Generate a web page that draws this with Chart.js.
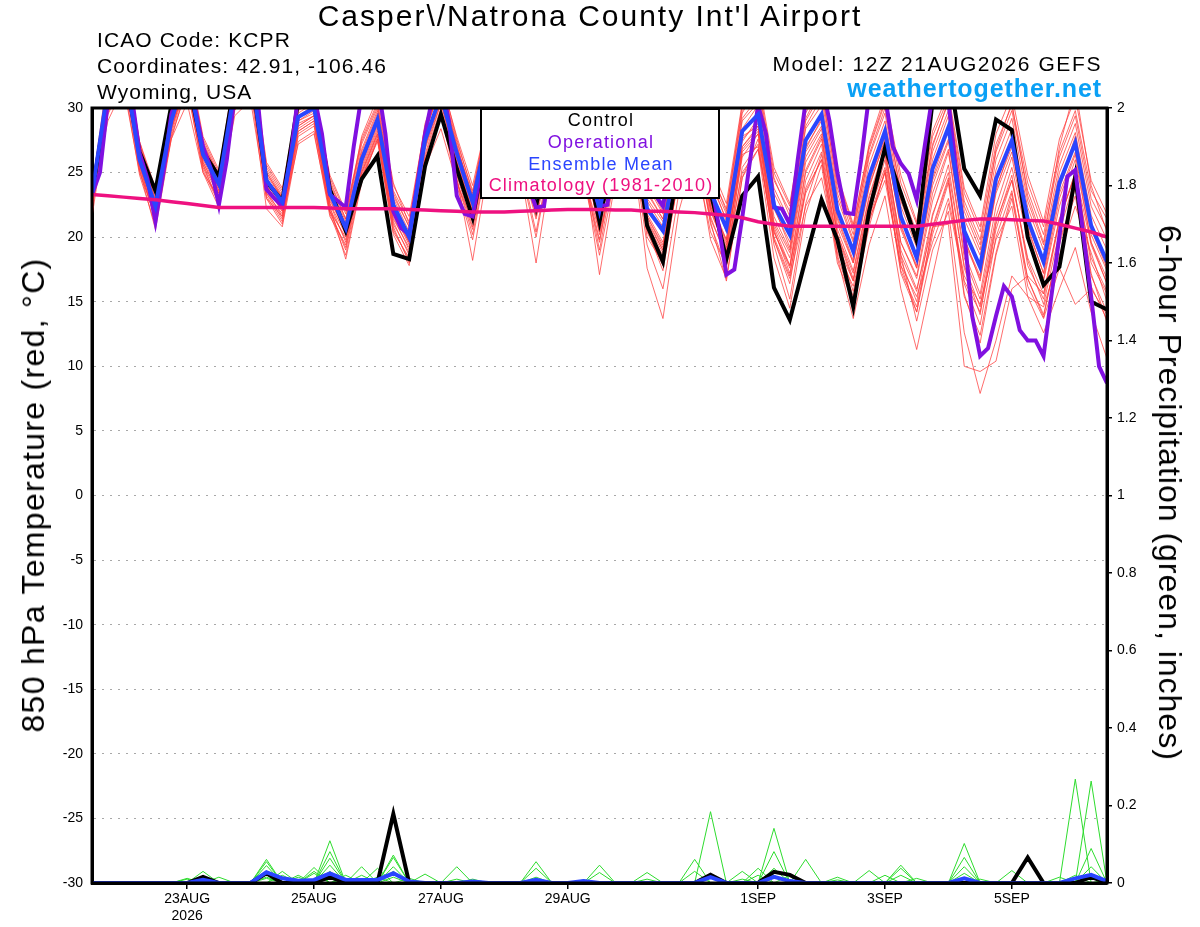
<!DOCTYPE html>
<html>
<head>
<meta charset="utf-8">
<title>Casper/Natrona County Int'l Airport - GEFS 850 hPa temperature</title>
<script src="https://cdn.jsdelivr.net/npm/chart.js@4.4.1/dist/chart.umd.min.js"></script>
<style>
  html, body { margin: 0; padding: 0; background: #fff; }
  #wrap { position: relative; width: 1200px; height: 927px; overflow: hidden;
          font-family: "Liberation Sans", Arial, Helvetica, sans-serif; color: #000; }
  #chart { position: absolute; left: 0; top: 0; }
  .txt { position: absolute; white-space: nowrap; }
  #title { left: 0; top: -2px; width: 1180px; text-align: center; font-size: 30px; line-height: 36px; letter-spacing: 2px; }
  #info { left: 97px; top: 27px; font-size: 21px; line-height: 26px; letter-spacing: 1.1px; }
  #model { right: 98px; top: 51px; font-size: 21px; line-height: 26px; letter-spacing: 1.6px; }
  #site { right: 98px; top: 74px; font-size: 25px; line-height: 28px; font-weight: bold; color: #0aa0f5; letter-spacing: 0.9px; }
  .axis-title { font-size: 32px; line-height: 36px; }
  #yTitle { left: 33px; top: 495px; letter-spacing: 1.3px; transform: translate(-50%, -50%) rotate(-90deg); }
  #y1Title { left: 1170px; top: 493px; letter-spacing: 1px; transform: translate(-50%, -50%) rotate(90deg); }
</style>
</head>
<body>
<div id="wrap">
  <canvas id="chart" width="1200" height="927"></canvas>
  <div class="txt" id="title">Casper\/Natrona County Int'l Airport</div>
  <div class="txt" id="info">ICAO Code: KCPR<br>Coordinates: 42.91, -106.46<br>Wyoming, USA</div>
  <div class="txt" id="model">Model: 12Z 21AUG2026 GEFS</div>
  <div class="txt" id="site">weathertogether.net</div>
  <div class="txt axis-title" id="yTitle">850 hPa Temperature (red, °C)</div>
  <div class="txt axis-title" id="y1Title">6-hour Precipitation (green, inches)</div>
</div>
<script>
(function () {
  "use strict";

  /* ---------- Data (6-hourly from 12Z 21AUG2026, operational 3-hourly) ---------- */
  var ensStepHours = 6;
  var opStepHours = 3;

  var dateTickHours = [36, 84, 132, 180, 252, 300, 348];
  var dateTickLabels = ["23AUG", "25AUG", "27AUG", "29AUG", "1SEP", "3SEP", "5SEP"];
  var dateTickYears = ["2026", "", "", "", "", "", ""];

  var tempMin = -30, tempMax = 30, tempStep = 5;
  var precipMin = 0, precipMax = 2, precipStep = 0.2;

  var legendNames = ["Control", "Operational", "Ensemble Mean", "Climatology (1981-2010)"];

  var controlTemp = [
    23.3,31.0,33.0,26.6,23.6,30.2,32.5,26.6,24.7,32.0,33.0,24.3,22.8,
    30.5,31.0,23.7,20.5,24.5,26.3,18.7,18.3,25.5,29.5,25.3,21.5,28.0,
    31.0,28.0,22.4,28.5,31.0,27.0,21.2,27.5,30.0,20.9,18.1,26.0,28.5,
    23.5,18.3,23.2,24.7,16.1,13.6,18.3,22.9,19.8,14.6,22.0,26.9,23.4,
    19.7,30.5,33.0,25.3,23.2,29.1,28.3,20.0,16.3,17.7,24.7,15.0,14.4
  ];

  var meanTemp = [
    23.3,31.5,33.5,26.0,22.4,29.0,33.0,26.4,24.1,31.5,33.0,24.4,22.7,
    29.3,30.0,23.4,20.7,26.0,29.1,22.5,20.0,27.5,31.0,26.5,22.7,28.5,
    31.0,28.0,23.5,29.0,31.0,27.5,22.1,28.0,30.5,22.2,20.5,27.0,30.0,
    23.5,20.7,28.2,29.5,22.5,20.2,27.5,29.5,22.1,18.9,24.7,28.2,21.6,
    18.4,25.3,28.5,20.5,17.7,24.5,27.5,21.4,18.1,24.2,27.3,20.9,18.1
  ];

  var climoTemp = [
    23.3,23.2,23.1,23.0,22.9,22.75,22.6,22.45,22.3,22.3,22.3,22.3,22.3,
    22.3,22.3,22.25,22.2,22.2,22.2,22.2,22.15,22.1,22.05,22.0,21.95,21.95,
    21.95,22.0,22.05,22.1,22.15,22.15,22.15,22.1,22.1,22.0,22.0,21.95,21.9,
    21.8,21.7,21.5,21.2,21.0,20.85,20.85,20.85,20.85,20.85,20.85,20.85,20.85,
    20.85,21.0,21.15,21.3,21.4,21.4,21.35,21.3,21.25,21.0,20.7,20.4,20.0
  ];

  var operationalTemp = [
    23.3,25.0,30.5,32.0,33.0,31.0,26.5,24.5,21.2,25.0,29.5,31.5,33.0,30.0,27.0,25.3,
    22.5,26.0,31.0,33.0,33.0,30.0,23.7,23.0,22.4,26.0,31.0,32.0,31.0,28.0,23.3,22.8,
    22.3,27.0,31.0,32.5,32.0,28.0,22.0,20.7,20.2,24.0,28.0,31.0,32.0,29.0,23.2,21.8,
    21.6,25.0,29.0,31.0,32.0,30.0,27.0,24.0,22.3,22.4,27.0,30.0,32.0,31.0,27.0,24.0,
    22.4,22.5,27.0,30.0,31.0,29.0,24.5,23.3,22.4,26.0,30.0,32.0,32.0,29.0,24.5,21.0,
    17.1,17.5,21.5,26.0,30.2,28.0,22.3,22.2,21.0,26.0,30.5,32.0,32.0,29.0,25.0,21.9,
    21.8,26.0,31.0,32.0,31.0,27.0,25.7,24.9,22.9,27.0,31.0,32.0,30.5,25.0,20.3,13.9,
    10.8,11.4,13.9,16.2,15.4,12.8,12.0,12.0,10.8,15.5,20.1,24.7,25.2,20.3,15.4,10.0,
    8.7
  ];

  var memberTemps = [
    [23.0,31.8,34.0,26.8,22.9,29.6,33.4,27.0,24.6,32.0,33.5,25.0,23.1, 29.8,30.6,24.0,21.2,26.8,29.8,23.4,20.8,28.2,31.6,27.0,23.2,29.0,
     31.5,28.4,24.0,29.6,31.8,28.2,22.8,28.6,31.2,23.0,21.2,27.8,30.6, 24.2,21.4,29.0,30.4,23.4,21.0,28.4,30.2,23.0,19.6,25.6,29.0,22.4,
     19.2,26.0,29.4,21.4,18.6,25.2,28.4,22.3,19.0,25.0,28.1,21.7,19.0],
    [22.1,29.5,32.0,24.8,20.9,27.8,31.5,25.2,22.6,30.0,31.8,23.0,21.0, 27.8,28.6,22.0,19.0,24.6,27.8,20.6,18.2,26.0,29.4,24.8,20.8,26.8,
     29.6,26.0,21.4,27.0,29.2,25.0,19.8,25.8,28.6,20.4,17.8,24.6,28.0, 21.0,17.6,25.4,27.2,19.8,16.4,23.8,26.6,19.6,15.8,21.6,25.0,17.8,
     14.2,20.8,24.6,15.6,11.8,18.6,23.0,16.8,14.0,19.4,23.8,17.0,14.2],
    [23.5,32.4,34.6,27.0,23.4,30.2,34.0,27.6,25.0,32.6,34.2,25.6,23.6, 30.4,31.2,24.8,22.0,27.6,30.4,24.0,21.6,28.6,32.2,27.8,24.0,29.6,
     32.2,29.0,24.6,30.2,32.4,29.0,23.6,29.4,32.0,24.6,22.4,28.8,31.8, 25.6,22.6,30.4,32.0,25.0,22.4,29.6,31.8,24.8,21.0,27.0,30.6,24.2,
     21.0,27.8,30.8,23.4,20.4,27.2,30.2,24.2,20.8,26.6,29.8,23.6,21.4],
    [22.6,30.0,33.0,25.4,21.6,28.2,32.4,25.8,23.4,30.6,32.4,23.8,22.0, 28.4,29.2,22.6,19.6,25.0,28.2,21.6,19.0,26.4,30.4,25.6,21.8,27.6,
     30.2,27.0,22.4,28.0,30.0,26.4,20.6,27.0,29.6,21.0,18.8,26.0,29.0, 22.0,19.0,27.0,28.4,21.0,18.4,25.8,28.0,20.2,16.8,22.6,26.4,18.6,
     13.5,19.0,22.0,12.6,7.9,12.0,17.0,15.4,14.6,18.6,22.4,18.8,15.0],
    [23.2,31.0,33.2,25.6,22.0,28.8,32.8,26.2,23.8,31.2,32.8,24.0,22.3, 29.0,29.6,23.0,20.2,25.6,28.8,22.0,19.6,27.0,30.8,26.0,22.2,28.2,
     30.6,27.4,23.0,28.6,30.6,27.0,21.6,27.6,30.0,21.6,19.4,26.4,29.4, 22.6,19.6,27.6,28.8,21.6,19.0,26.6,28.6,20.6,17.4,23.2,27.0,19.0,
     16.0,20.8,21.0,10.0,9.6,10.4,16.0,17.0,15.6,21.4,25.0,19.4,16.4],
    [23.4,31.6,33.6,26.2,22.6,29.2,33.2,26.6,24.2,31.4,33.0,24.6,22.8, 29.4,30.2,23.6,20.8,26.2,29.2,22.6,20.2,27.6,31.2,26.6,22.6,28.6,
     31.0,28.0,23.2,28.8,30.8,26.8,20.2,25.6,27.8,17.6,13.7,22.0,26.4, 20.4,17.8,26.6,28.0,20.4,17.6,25.0,27.6,20.0,16.6,22.6,26.6,19.6,
     16.8,22.8,26.6,18.4,15.2,21.6,25.4,19.8,16.6,22.4,26.0,19.6,16.8],
    [22.8,30.8,33.2,25.8,21.8,28.6,32.6,26.0,23.6,31.0,32.6,23.6,21.6, 28.6,29.4,22.4,18.3,24.2,27.6,20.2,17.8,25.6,29.8,24.4,20.6,27.2,
     29.8,26.6,21.6,27.6,29.6,25.6,17.1,24.4,28.4,20.0,18.0,25.4,28.8, 22.4,19.8,27.4,29.2,22.2,19.6,27.0,29.0,21.6,18.2,24.0,27.4,20.8,
     17.8,24.4,27.6,19.6,16.8,23.4,26.6,20.6,17.2,23.4,26.6,20.2,17.4],
    [23.6,32.0,34.4,27.2,23.6,30.0,33.8,27.4,24.8,32.4,33.8,25.4,23.4, 30.2,31.0,24.6,21.8,27.4,30.2,23.6,21.2,28.4,32.0,27.4,23.6,29.4,
     32.0,28.8,24.4,30.0,32.2,28.6,23.4,29.2,31.6,24.2,22.0,28.4,31.4, 25.0,22.2,29.8,31.4,24.4,22.0,29.0,31.2,24.2,20.6,26.4,30.0,23.6,
     20.4,27.2,30.4,22.8,19.8,26.6,29.8,23.6,20.2,26.2,29.4,23.0,20.6],
    [21.6,29.6,32.4,25.2,20.6,27.6,31.8,25.0,22.3,29.8,31.6,22.2,20.8, 27.4,28.2,21.6,19.4,25.2,28.4,21.2,18.6,25.8,29.6,24.0,19.8,26.4,
     29.0,25.4,18.0,25.8,29.2,24.6,19.6,26.4,29.4,21.4,19.0,26.0,29.2, 22.2,19.2,27.0,28.6,21.2,18.8,26.2,28.4,21.0,18.0,23.8,27.6,21.0,
     17.6,24.0,27.4,19.8,17.0,23.8,27.0,21.0,17.8,23.8,27.2,20.6,17.6],
    [23.0,31.2,33.6,26.4,22.2,28.8,32.8,26.2,23.8,31.2,32.8,24.2,22.4, 29.0,29.8,23.2,20.4,25.8,28.8,22.2,19.8,27.2,30.8,26.2,22.4,28.2,
     30.6,27.6,23.0,28.6,30.4,26.8,21.8,27.4,29.8,21.8,19.6,26.6,29.6, 22.8,19.8,27.8,28.6,20.6,17.2,23.4,26.0,18.4,13.7,19.4,23.2,16.0,
     11.3,17.0,22.6,16.6,14.2,20.6,24.4,18.2,14.8,20.4,24.6,17.2,13.4],
    [23.1,30.6,33.0,25.8,22.2,28.6,32.2,25.8,23.4,30.8,32.2,23.8,22.2, 28.8,29.4,22.8,20.6,25.4,28.6,21.8,19.4,26.8,30.4,25.8,22.0,27.8,
     30.4,27.2,22.8,28.4,30.4,26.6,21.4,27.2,29.8,21.6,19.2,26.0,29.0, 22.4,19.4,26.4,27.0,19.8,16.8,22.4,24.6,18.8,16.2,21.4,24.4,17.8,
     15.4,19.6,23.0,17.0,14.8,19.8,22.4,15.4,12.6,16.0,19.2,14.2,10.6],
    [23.3,32.2,34.8,27.4,23.2,30.4,34.2,27.8,25.2,32.8,34.4,25.8,23.8, 30.6,31.4,24.4,21.4,27.8,30.8,24.2,21.0,28.8,32.4,27.6,23.4,29.8,
     32.4,29.2,24.2,30.4,32.6,28.8,23.0,29.6,32.2,24.0,21.8,29.0,32.0, 25.2,22.0,30.2,32.4,25.4,22.6,30.0,32.4,24.6,20.8,27.2,31.0,24.8,
     21.2,28.2,31.2,23.8,20.8,28.0,31.0,24.8,21.2,27.6,30.8,24.4,21.8],
    [22.9,30.2,32.6,25.6,21.8,28.4,32.0,25.6,23.2,30.6,32.0,23.4,21.8, 28.2,29.0,22.2,19.8,25.0,28.0,21.0,18.8,26.2,30.0,25.2,21.4,27.4,
     30.0,26.8,22.2,27.8,29.8,25.8,20.8,26.8,29.2,20.8,18.2,25.2,28.6, 21.6,18.4,26.2,28.0,20.0,17.0,24.4,27.2,19.2,15.4,21.8,26.0,18.2,
     15.0,21.6,25.6,17.6,14.0,21.0,24.8,17.8,15.2,21.2,25.0,18.0,15.6],
    [23.4,31.4,33.8,26.6,22.8,29.4,33.4,27.0,24.4,31.8,33.2,24.8,23.0, 29.6,30.4,23.8,21.0,26.6,29.6,23.0,20.4,28.0,31.8,27.2,23.0,29.2,
     31.8,28.6,23.8,29.8,32.0,28.2,22.6,29.0,31.4,23.6,21.4,28.2,31.2, 24.6,21.8,29.6,31.8,24.6,21.6,29.2,31.6,23.8,20.2,26.8,30.4,23.2,
     20.0,27.0,30.6,22.4,19.4,26.8,30.4,23.2,19.6,27.0,31.6,24.0,20.4],
    [22.4,30.4,33.0,25.2,21.4,28.4,32.2,25.4,22.8,30.4,32.2,23.2,21.2, 28.0,28.8,21.8,18.6,24.4,27.6,20.4,18.4,25.8,29.8,24.6,18.2,25.6,
     29.4,25.8,20.4,26.8,29.6,25.2,19.0,25.8,29.0,20.6,17.4,24.8,28.4, 21.2,16.6,24.6,27.6,19.4,15.2,22.6,26.4,18.6,14.8,20.8,25.2,17.2,
     14.2,20.2,24.2,15.4,12.4,18.8,23.4,16.2,13.7,17.6,14.8,16.0,14.0],
    [23.0,29.0,31.6,25.0,21.6,27.6,30.4,25.0,23.0,29.4,30.6,23.0,21.6, 27.2,28.0,22.0,20.0,24.6,27.4,21.4,19.2,25.4,28.4,24.2,21.2,26.4,
     28.6,25.6,22.0,26.8,28.4,24.8,20.4,25.6,27.8,20.6,18.6,24.4,27.2, 21.4,18.6,25.0,26.8,20.4,17.8,23.6,26.0,19.4,16.6,22.0,25.4,18.6,
     15.8,21.8,25.0,17.8,14.6,21.2,24.4,18.4,15.6,21.4,24.8,18.4,15.8],
    [23.6,31.8,34.2,26.6,23.0,30.0,33.6,27.2,24.6,32.2,33.6,25.2,23.2, 30.0,30.8,24.2,21.4,27.2,30.0,23.2,20.8,28.2,31.8,27.0,23.2,29.4,
     31.8,28.6,24.0,29.8,31.8,28.0,22.8,28.8,31.0,23.4,21.4,28.0,30.8, 24.6,21.2,29.2,30.8,23.8,21.2,28.6,30.8,23.4,19.8,26.2,29.6,22.8,
     19.6,26.6,29.8,22.0,19.0,26.0,29.2,22.8,19.4,25.6,28.8,22.4,19.8],
    [22.7,30.8,33.2,26.0,22.0,28.8,32.6,26.4,23.6,31.0,32.6,24.0,22.0, 28.6,29.4,22.6,20.2,25.8,28.8,21.8,19.6,27.0,30.6,25.8,22.0,28.0,
     30.6,27.2,22.6,28.4,30.6,26.4,21.2,27.2,29.8,21.2,19.0,26.2,29.2, 22.2,18.8,26.8,28.2,20.8,17.8,25.2,27.8,20.2,17.2,23.0,26.8,19.6,
     17.0,23.4,26.8,18.8,15.6,22.4,26.2,20.0,16.8,23.0,26.4,19.6,16.4],
    [23.8,32.6,34.8,27.4,23.8,30.4,34.0,27.2,24.8,32.2,33.6,25.0,23.0, 30.0,30.8,23.8,20.6,26.4,29.4,22.4,19.6,27.4,31.4,26.4,22.6,28.8,
     31.4,28.2,23.4,29.4,31.6,27.6,22.2,28.4,31.2,22.8,20.8,27.8,30.8, 23.8,20.4,28.4,30.2,22.4,19.2,26.8,29.2,21.4,18.0,24.2,27.8,20.6,
     17.6,24.6,28.2,20.0,16.6,23.6,27.4,20.8,17.2,24.0,27.8,20.8,17.8],
    [22.2,30.2,32.8,25.6,21.2,28.0,32.0,25.6,22.6,30.2,31.8,23.4,21.4, 28.2,29.0,22.0,19.2,24.8,28.0,20.8,18.0,25.6,29.6,24.4,20.2,26.6,
     29.2,25.4,20.0,26.6,29.0,24.6,18.6,24.8,27.8,19.4,16.0,23.4,27.0, 19.8,16.8,24.6,26.8,18.4,14.5,21.8,25.6,18.0,15.0,21.2,25.0,17.4,
     14.6,20.6,24.4,16.4,13.2,20.0,23.6,16.8,13.8,19.8,23.2,16.2,13.6]
  ];

  var controlPrecip = [
    0,0,0,0,0,0,0,.016,0,0,0,.025,0,
    0,0,.016,0,0,0,.178,0,0,0,0,0,0,
    0,0,0,0,0,0,0,0,0,0,0,0,0,
    .021,0,0,0,.029,.021,0,0,0,0,0,0,0,
    0,0,0,0,0,0,0,.066,0,0,0,.016,0
  ];

  var meanPrecip = [
    0,0,0,0,0,0,0,.008,0,0,0,.028,.012,
    .006,.008,.025,.008,.008,.008,.025,.004,0,0,0,.004,0,
    0,0,.008,0,0,.005,0,0,0,0,0,0,0,
    .015,0,0,0,.016,.005,0,0,0,0,0,0,0,
    0,0,0,.012,0,0,0,0,0,0,.012,.021,.005
  ];

  var memberPrecips = [
    [0,0,0,0,0,0,0,0,0,0,0,.061,0, 0,0,.109,0,0,0,.072,0,0,0,0,0,0, 0,0,0,0,0,0,0,0,0,0,0,0,0, .184,0,0,0,.141,0,0,0,0,0,0,0,0, 0,0,0,0,0,0,0,0,0,0,.268,0,0],
    [0,0,0,0,0,0,0,0,0,0,0,.055,0, 0,0,.081,0,0,0,.066,0,0,0,0,0,0, 0,0,.055,0,0,0,0,0,0,0,0,0,0, 0,0,0,0,.081,0,0,0,0,0,0,0,0, 0,0,0,0,0,0,0,0,0,0,0,.263,0],
    [0,0,0,0,0,0,0,.03,0,0,0,.045,0, 0,0,.064,0,.042,0,0,0,0,0,0,0,0, 0,0,0,0,0,0,0,0,0,0,0,0,.061, 0,0,0,0,0,0,0,0,0,0,0,0,0, 0,0,0,.102,0,0,0,0,0,0,0,0,0],
    [0,0,0,0,0,0,0,0,0,0,0,.03,0, 0,.04,0,0,0,0,.042,0,0,0,.042,0,0, 0,0,0,0,0,0,0,0,0,0,0,0,0, 0,0,0,0,0,0,.061,0,0,0,0,0,0, 0,0,0,0,0,0,0,0,0,0,0,.089,0],
    [0,0,0,0,0,0,.012,0,0,0,0,0,.03, 0,0,.046,0,0,.038,0,0,0,0,0,0,0, 0,0,0,0,0,0,.046,0,0,0,0,0,0, 0,0,0,0,0,0,0,0,0,0,0,0,.046, 0,0,0,.066,0,0,0,0,0,0,0,0,0],
    [0,0,0,0,0,0,0,0,.015,0,0,0,0, .02,0,.03,0,0,0,0,0,.023,0,0,0,0, 0,0,.038,0,0,0,0,0,0,.027,0,0,0, 0,0,0,.038,0,0,0,0,0,0,0,0,0, 0,0,0,.042,0,0,0,0,0,0,0,0,0],
    [0,0,0,0,0,0,0,0,0,0,0,.015,0, 0,.03,0,.02,0,0,.03,0,0,0,0,0,0, 0,0,0,0,0,0,.027,0,0,0,0,0,0, 0,0,0,0,.038,0,0,0,0,0,.032,0,0, 0,0,0,0,0,0,0,0,0,0,0,.042,0],
    [0,0,0,0,0,0,0,0,0,0,0,0,.02, 0,0,0,0,.02,0,.015,0,0,0,0,0,0, 0,0,0,0,0,0,0,0,0,0,0,0,0, 0,0,.03,0,0,0,0,0,0,0,0,0,.038, 0,0,0,0,0,0,.032,0,0,0,0,0,0],
    [0,0,0,0,0,0,0,.01,0,0,0,0,0, 0,.025,0,.012,0,.015,0,0,0,0,0,0,0, 0,0,.015,0,0,0,0,0,0,0,0,0,0, 0,0,0,.02,0,0,0,0,0,0,0,0,.02, 0,0,0,.025,0,0,0,0,0,0,.02,0,0],
    [0,0,0,0,0,0,.01,0,0,0,0,0,0, .015,0,0,0,0,0,0,.012,0,0,0,.01,0, 0,0,0,0,0,0,0,0,0,.01,0,0,0, .02,0,0,0,.02,0,0,0,.015,0,0,0,0, .012,0,0,0,0,0,0,0,0,0,0,.02,0],
    [0,0,0,0,0,0,0,0,0,0,0,0,0, 0,0,0,0,0,0,0,0,0,0,.01,0,0, 0,0,0,0,0,0,0,0,0,0,0,0,.03, 0,0,.01,0,0,.02,0,0,0,0,0,.02,0, 0,0,0,0,.01,0,0,0,0,.015,0,0,.01],
    [0,0,0,0,0,0,0,0,0,0,0,.012,0, 0,0,.015,0,0,0,0,0,0,0,0,0,0, 0,0,0,0,0,.008,0,0,0,0,0,0,0, 0,0,0,0,0,0,0,0,.008,0,0,0,0, 0,0,0,0,0,0,0,0,0,0,0,0,0]
  ];

  /* ---------- Colours ---------- */
  var black = "#000000";
  var purple = "#8010e0";
  var blue = "#2a45ff";
  var pink = "#ee1180";
  var memberRed = "rgba(255, 60, 60, 0.75)";
  var memberGreen = "#2edc2e";
  var legendColors = [black, purple, blue, pink];

  var fontFamily = "'Liberation Sans', Arial, Helvetica, sans-serif";

  function toPoints(vals, step) {
    return vals.map(function (v, i) { return { x: i * step, y: v }; });
  }

  function lineSet(label, vals, step, color, width, axis) {
    return {
      label: label,
      data: toPoints(vals, step),
      borderColor: color,
      backgroundColor: color,
      borderWidth: width,
      pointRadius: 0,
      tension: 0,
      fill: false,
      clip: 0,
      yAxisID: axis
    };
  }

  // first in list is drawn on top
  var datasets = [
    lineSet("Climatology (1981-2010)", climoTemp, ensStepHours, pink, 3.5, "y"),
    lineSet("Ensemble Mean", meanTemp, ensStepHours, blue, 4, "y"),
    lineSet("Operational", operationalTemp, opStepHours, purple, 4, "y"),
    lineSet("Control", controlTemp, ensStepHours, black, 4, "y"),
    lineSet("Ensemble Mean precip", meanPrecip, ensStepHours, blue, 4, "y1"),
    lineSet("Control precip", controlPrecip, ensStepHours, black, 4, "y1")
  ];
  memberPrecips.forEach(function (vals, i) {
    datasets.push(lineSet("Member precip " + (i + 1), vals, ensStepHours, memberGreen, 1, "y1"));
  });
  memberTemps.forEach(function (vals, i) {
    datasets.push(lineSet("Member " + (i + 1), vals, ensStepHours, memberRed, 1, "y"));
  });

  /* ---------- Frame + in-plot legend ---------- */
  var overlayPlugin = {
    id: "overlay",
    afterDatasetsDraw: function (chart) {
      var ctx = chart.ctx, a = chart.chartArea;
      ctx.save();
      ctx.strokeStyle = "#000";
      ctx.lineWidth = 3;
      ctx.strokeRect(a.left, a.top, a.right - a.left, a.bottom - a.top);

      var bx = 481, by = 109, bw = 238, bh = 89;
      ctx.fillStyle = "#fff";
      ctx.fillRect(bx, by, bw, bh);
      ctx.lineWidth = 2;
      ctx.strokeRect(bx, by, bw, bh);
      ctx.font = "18px " + fontFamily;
      ctx.textAlign = "center";
      ctx.textBaseline = "middle";
      if ("letterSpacing" in ctx) ctx.letterSpacing = "1.2px";
      legendNames.forEach(function (name, i) {
        ctx.fillStyle = legendColors[i];
        ctx.fillText(name, bx + bw / 2 + 1, by + 12 + i * 21.8);
      });
      ctx.restore();
    }
  };

  new Chart(document.getElementById("chart"), {
    type: "line",
    data: { datasets: datasets },
    plugins: [overlayPlugin],
    options: {
      responsive: false,
      animation: false,
      devicePixelRatio: 1,
      events: [],
      layout: { padding: { top: 108, left: 0, right: 0, bottom: 0 } },
      plugins: {
        legend: { display: false },
        tooltip: { enabled: false },
        title: { display: false }
      },
      scales: {
        x: {
          type: "linear",
          min: 0,
          max: 384,
          afterBuildTicks: function (scale) {
            scale.ticks = dateTickHours.map(function (h) { return { value: h }; });
          },
          afterFit: function (scale) { scale.height = 44; },
          grid: { drawOnChartArea: false, drawTicks: true, tickLength: 6, color: "#000", lineWidth: 1.5 },
          border: { display: true, color: "#000", width: 3 },
          ticks: {
            autoSkip: false,
            maxRotation: 0,
            padding: 2,
            color: "#000",
            font: { family: fontFamily, size: 14 },
            callback: function (v) {
              var k = dateTickHours.indexOf(v);
              if (k < 0) return "";
              return dateTickYears[k] ? [dateTickLabels[k], dateTickYears[k]] : dateTickLabels[k];
            }
          }
        },
        y: {
          position: "left",
          min: tempMin,
          max: tempMax,
          afterFit: function (scale) { scale.width = 92; },
          grid: { drawTicks: false, color: "#a8a8a8", lineWidth: 1 },
          border: { display: true, color: "#000", width: 3, dash: [2, 6] },
          ticks: {
            stepSize: tempStep,
            padding: 9,
            color: "#000",
            font: { family: fontFamily, size: 14 },
            callback: function (v) { return String(v); }
          }
        },
        y1: {
          position: "right",
          min: precipMin,
          max: precipMax,
          afterFit: function (scale) { scale.width = 93; },
          grid: { drawOnChartArea: false, drawTicks: true, tickLength: 5, color: "#000", lineWidth: 1.5 },
          border: { display: true, color: "#000", width: 3 },
          ticks: {
            stepSize: precipStep,
            padding: 5,
            color: "#000",
            font: { family: fontFamily, size: 14 },
            callback: function (v) { return String(Number(v.toFixed(1))); }
          }
        }
      }
    }
  });
})();
</script>
</body>
</html>
